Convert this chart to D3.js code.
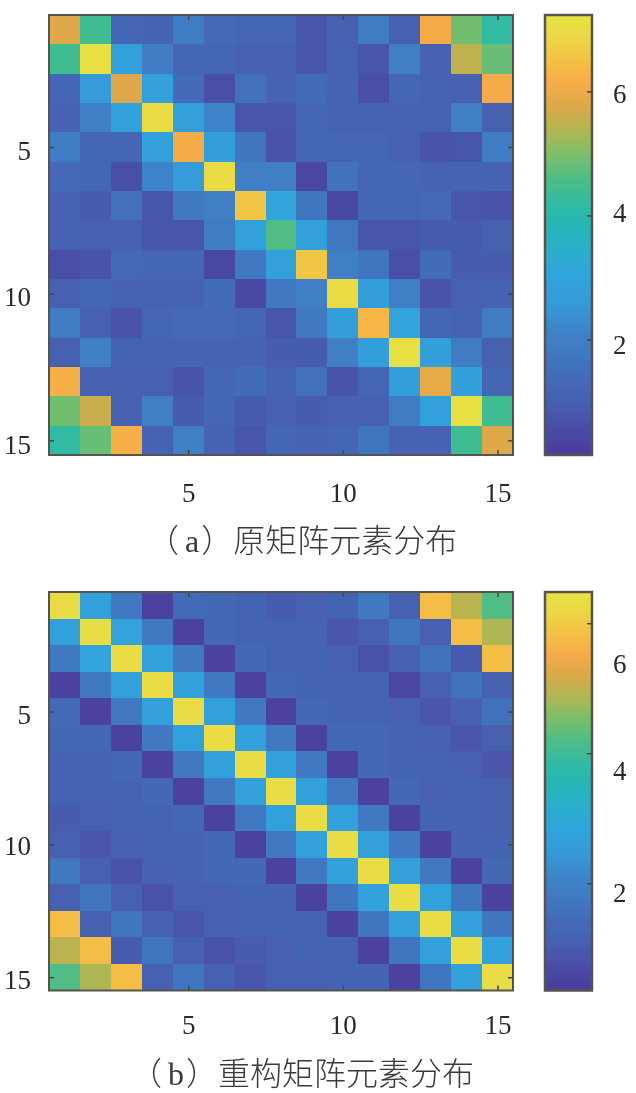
<!DOCTYPE html>
<html>
<head>
<meta charset="utf-8">
<style>
  html, body { margin: 0; background: #fff; }
  .domain { display: none; }
  .tick line { stroke: #444; stroke-width: 1.5; }
</style>
</head>
<body>
<svg id="chart" width="636" height="1093"></svg>
<script src="https://cdn.jsdelivr.net/npm/d3@7"></script>
<script>
// matrix, on its own colour bar
const matrixA = [
  [5.8, 4.4, 1.2, 1.1, 1.9, 1.3, 1.2, 1.2, 0.8, 1.0, 1.9, 1.0, 6.1, 4.9, 4.2],
  [4.4, 7.1, 2.9, 1.9, 1.2, 1.2, 1.0, 1.0, 0.8, 1.1, 0.8, 2.0, 1.0, 5.5, 4.8],
  [1.2, 2.7, 5.8, 2.9, 1.4, 0.6, 1.5, 1.1, 1.4, 1.1, 0.6, 1.2, 1.1, 1.0, 6.1],
  [1.1, 2.0, 2.9, 7.0, 2.9, 2.1, 0.8, 0.8, 1.2, 1.1, 1.1, 1.1, 1.1, 2.0, 1.0],
  [1.9, 1.2, 1.2, 2.9, 6.1, 2.8, 1.7, 0.7, 1.2, 1.2, 1.2, 1.0, 0.7, 0.8, 1.9],
  [1.3, 1.2, 0.6, 2.1, 2.7, 7.0, 2.0, 2.0, 0.4, 1.6, 1.2, 1.2, 1.1, 1.1, 1.1],
  [1.1, 0.9, 1.5, 0.8, 1.8, 2.0, 6.6, 3.0, 1.7, 0.5, 1.2, 1.2, 1.3, 0.8, 0.7],
  [1.1, 1.0, 1.0, 0.8, 0.8, 1.9, 2.9, 4.6, 2.9, 1.8, 0.8, 0.8, 0.9, 0.9, 1.0],
  [0.6, 0.7, 1.3, 1.2, 1.2, 0.4, 1.8, 2.9, 6.6, 2.0, 1.7, 0.6, 1.4, 0.9, 0.9],
  [1.0, 1.2, 1.1, 1.1, 1.1, 1.4, 0.5, 1.8, 2.0, 7.0, 2.8, 2.0, 0.7, 1.0, 1.1],
  [1.9, 1.0, 0.7, 1.2, 1.3, 1.3, 1.2, 0.8, 1.8, 2.8, 6.3, 3.0, 1.2, 1.1, 1.9],
  [1.0, 2.0, 1.1, 1.1, 1.1, 1.1, 1.1, 0.9, 0.9, 2.0, 2.8, 7.1, 2.8, 1.9, 1.0],
  [6.2, 1.0, 1.0, 1.0, 0.7, 1.2, 1.4, 1.1, 1.5, 0.7, 1.2, 2.8, 5.9, 2.8, 1.2],
  [4.9, 5.6, 1.0, 2.0, 0.9, 1.2, 0.9, 1.0, 0.9, 1.0, 1.0, 1.9, 2.9, 7.1, 4.4],
  [4.2, 4.8, 6.2, 1.1, 2.0, 1.1, 0.8, 1.2, 1.1, 1.2, 1.7, 1.1, 1.1, 4.4, 5.8]
];

// matrix, on its own colour bar
const matrixB = [
  [6.3, 2.7, 1.8, 0.5, 1.4, 1.3, 1.2, 1.0, 1.1, 1.2, 1.8, 1.1, 5.8, 4.95, 4.2],
  [2.7, 6.3, 2.8, 1.8, 0.5, 1.3, 1.2, 1.2, 1.2, 0.9, 1.1, 1.7, 1.1, 5.8, 4.85],
  [1.8, 2.8, 6.3, 2.7, 1.8, 0.5, 1.3, 1.2, 1.2, 1.1, 0.8, 1.1, 1.6, 1.0, 5.8],
  [0.5, 1.8, 2.7, 6.3, 2.7, 1.8, 0.5, 1.3, 1.2, 1.2, 1.2, 0.6, 1.1, 1.6, 1.1],
  [1.4, 0.5, 1.8, 2.7, 6.3, 2.7, 1.8, 0.5, 1.3, 1.2, 1.2, 1.1, 0.9, 1.1, 1.6],
  [1.3, 1.3, 0.5, 1.8, 2.7, 6.3, 2.7, 1.8, 0.5, 1.3, 1.3, 1.2, 1.1, 0.9, 1.1],
  [1.2, 1.2, 1.3, 0.5, 1.8, 2.7, 6.3, 2.7, 1.8, 0.5, 1.3, 1.2, 1.2, 1.1, 0.9],
  [1.2, 1.2, 1.2, 1.3, 0.5, 1.8, 2.7, 6.3, 2.7, 1.8, 0.5, 1.3, 1.1, 1.2, 1.1],
  [1.0, 1.1, 1.2, 1.2, 1.3, 0.5, 1.8, 2.7, 6.3, 2.7, 1.8, 0.5, 1.2, 1.2, 1.1],
  [1.1, 0.9, 1.1, 1.2, 1.2, 1.3, 0.5, 1.8, 2.7, 6.3, 2.7, 1.8, 0.5, 1.2, 1.2],
  [1.8, 1.1, 0.8, 1.1, 1.2, 1.3, 1.3, 0.5, 1.8, 2.7, 6.3, 2.7, 1.8, 0.5, 1.3],
  [1.1, 1.7, 1.1, 0.8, 1.1, 1.1, 1.2, 1.2, 0.5, 1.7, 2.7, 6.3, 2.7, 1.7, 0.5],
  [5.8, 1.1, 1.7, 1.1, 0.9, 1.1, 1.2, 1.2, 1.2, 0.5, 1.7, 2.7, 6.3, 2.7, 1.7],
  [4.95, 5.8, 1.0, 1.7, 1.1, 0.8, 1.0, 1.1, 1.2, 1.2, 0.5, 1.7, 2.7, 6.3, 2.7],
  [4.2, 4.85, 5.8, 1.1, 1.7, 1.1, 0.9, 1.1, 1.1, 1.2, 1.2, 0.5, 1.7, 2.7, 6.3]
];

const axisTicks = [5, 10, 15];
const barTicks = [2, 4, 6];
const captionA = ['（', 'a', '）', '原矩阵元素分布'];
const captionB = ['（', 'b', '）', '重构矩阵元素分布'];

// washed out parula (position along the bar, colour)
const parulaPos = [0, 0.044, 0.121, 0.196, 0.262, 0.302, 0.347, 0.4, 0.453, 0.516, 0.566, 0.629, 0.685, 0.728, 0.791, 0.841, 0.883, 0.947, 1];
const parulaCol = ['#4c3a9c', '#4a48a4', '#4660b0', '#4270bc', '#3f7fc6', '#3c8ace', '#369ad8', '#30a3dc', '#2cadd0', '#26b6b8', '#2fbaa5', '#50bd85', '#7dbe6a', '#a9b854', '#dba94b', '#f6ab48', '#f5bb45', '#ecd545', '#e6e542'];

const serifFont = 'Liberation Serif';
const cjkFont = 'Noto Sans CJK SC';
const captionGaps = [0, 6, 2, 0];

const svg = d3.select('#chart');
const defs = svg.append('defs');

// the reference is a soft scan
defs.append('filter')
  .attr('id', 'soft')
  .append('feGaussianBlur')
  .attr('stdDeviation', 0.45);

function styleNums(sel) {
  sel.attr('font-family', serifFont)
    .attr('font-size', 27)
    .attr('fill', '#2a2a2a')
    .style('font-family', `'${serifFont}'`)
    .style('font-size', '27px');
}

function drawPanel(p) {
  const g = svg.append('g').attr('filter', 'url(#soft)');
  const color = d3.scaleLinear()
    .domain(parulaPos.map(t => p.clim[0] + (p.clim[1] - p.clim[0]) * t))
    .range(parulaCol)
    .clamp(true);

  const x = d3.scaleLinear().domain([0.5, 15.5]).range([49, 513]);
  const y = d3.scaleLinear().domain([0.5, 15.5]).range([p.top, p.bottom]);

  // heat cells
  p.matrix.forEach((row, r) => {
    g.append('g').selectAll('rect')
      .data(row)
      .enter()
      .append('rect')
      .attr('x', (d, c) => x(c + 0.5))
      .attr('y', y(r + 0.5))
      .attr('width', (d, c) => x(c + 1.5) - x(c + 0.5) + 0.5)
      .attr('height', y(r + 1.5) - y(r + 0.5) + 0.5)
      .attr('shape-rendering', 'crispEdges')
      .attr('fill', d => color(d));
  });

  // axes on all four sides, ticks point inwards
  g.append('g')
    .attr('transform', `translate(0,${p.bottom})`)
    .call(d3.axisBottom(x).tickValues(axisTicks).tickFormat(d3.format('d')).tickSizeInner(-5).tickSizeOuter(0).tickPadding(p.xPad))
    .call(a => a.selectAll('text').call(styleNums));
  g.append('g')
    .attr('transform', `translate(0,${p.top})`)
    .call(d3.axisTop(x).tickValues(axisTicks).tickSizeInner(-5).tickSizeOuter(0).tickFormat(''));
  g.append('g')
    .attr('transform', 'translate(49,0)')
    .call(d3.axisLeft(y).tickValues(axisTicks).tickFormat(d3.format('d')).tickSizeInner(-5).tickSizeOuter(0).tickPadding(18))
    .call(a => a.selectAll('text').call(styleNums).attr('dy', (d, i) => 9 + p.yShift[i]));
  g.append('g')
    .attr('transform', 'translate(513,0)')
    .call(d3.axisRight(y).tickValues(axisTicks).tickSizeInner(-5).tickSizeOuter(0).tickFormat(''));

  g.append('rect')
    .attr('x', 49).attr('y', p.top)
    .attr('width', 464).attr('height', p.bottom - p.top)
    .attr('fill', 'none')
    .attr('stroke', '#555550')
    .attr('stroke-width', 2);

  // colour bar
  const gradId = 'bar' + p.id;
  defs.append('linearGradient')
    .attr('id', gradId)
    .attr('x1', 0).attr('x2', 0).attr('y1', 1).attr('y2', 0)
    .selectAll('stop')
    .data(parulaCol)
    .enter()
    .append('stop')
    .attr('offset', (d, i) => parulaPos[i])
    .attr('stop-color', d => d);

  const barY = d3.scaleLinear().domain(p.clim).range([p.bottom, p.top]);
  g.append('rect')
    .attr('x', 545).attr('y', p.top)
    .attr('width', 47).attr('height', p.bottom - p.top)
    .attr('fill', `url(#${gradId})`)
    .attr('stroke', '#555550')
    .attr('stroke-width', 2.5);
  g.append('g')
    .attr('transform', 'translate(592,0)')
    .call(d3.axisRight(barY).tickValues(barTicks).tickFormat(d3.format('d')).tickSizeInner(-5).tickSizeOuter(0).tickPadding(21))
    .call(a => a.selectAll('text').call(styleNums).attr('dy', (d, i) => 9 + p.barShift[i]));

  // caption, the letter is set in the serif face
  const cap = g.append('text')
    .attr('x', p.capX).attr('y', p.capY)
    .attr('font-size', 32)
    .attr('fill', '#3a3a3a')
    .style('font-family', `'${cjkFont}'`)
    .style('font-weight', 300);
  p.caption.forEach((t, i) => {
    cap.append('tspan')
      .attr('dx', captionGaps[i])
      .style('font-family', i === 1 ? `'${serifFont}'` : `'${cjkFont}'`)
      .text(t);
  });
}

drawPanel({
  id: 'a', matrix: matrixA, clim: [0.14, 7.23], top: 15, bottom: 455,
  xPad: 28, yShift: [3, 3, 4], barShift: [5, -3, 2],
  caption: captionA, capX: 147, capY: 552
});
drawPanel({
  id: 'b', matrix: matrixB, clim: [0.35, 6.48], top: 592, bottom: 990.5,
  xPad: 24, yShift: [3, 1, 2], barShift: [9, 17, 40],
  caption: captionB, capX: 130, capY: 1085
});
</script>
</body>
</html>
